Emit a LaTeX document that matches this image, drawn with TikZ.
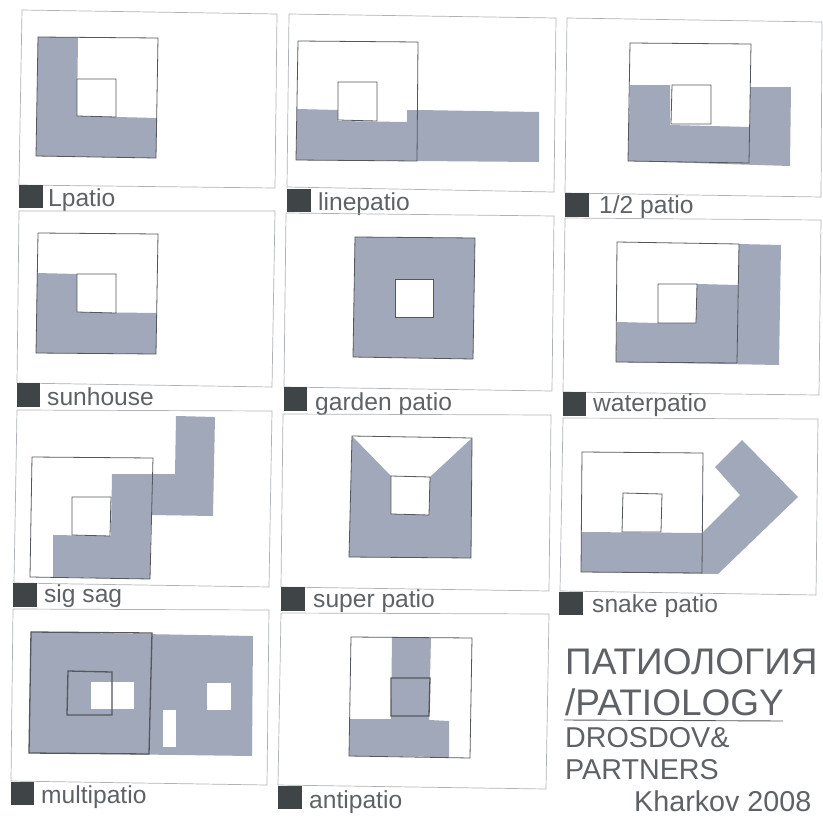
\documentclass[tikz,border=0pt]{standalone}
\usepackage{fontspec}
\setmainfont{Liberation Sans}
\definecolor{patchgrey}{HTML}{A0A8B9}
\definecolor{framegrey}{HTML}{AEB2B7}
\definecolor{wallgrey}{HTML}{54585C}
\definecolor{tagdark}{HTML}{3F4446}
\definecolor{inkgrey}{HTML}{5E6266}
\tikzset{
  % plans
  panel/.style={draw=framegrey,line width=0.7pt},
  patch/.style={fill=patchgrey},
  house/.style={draw=wallgrey,line width=0.8pt},
  housebold/.style={draw=wallgrey,line width=1.3pt},
  hole/.style={fill=white},
  court/.style={draw=wallgrey,line width=0.8pt,fill=white},
  tagbox/.style={fill=tagdark},
  % texts
  caption/.style={anchor=base west,inner sep=0pt,text=inkgrey,font=\fontsize{24.6}{25}\selectfont},
  titlebig/.style={anchor=base west,inner sep=0pt,text=inkgrey,font=\fontsize{37}{39}\selectfont},
  titlesmall/.style={anchor=base west,inner sep=0pt,text=inkgrey,font=\fontsize{28.7}{30}\selectfont},
}
\begin{document}
\begin{tikzpicture}[x=1pt,y=-1pt]
\useasboundingbox (0,0) rectangle (823,817);
  % row 1
  \draw[panel] (22,10) -- (277,14) -- (275,188) -- (19,185) -- cycle;
  \fill[patch] (38,37) -- (78,37) -- (77,116) -- (157,118) -- (156,158) -- (36,156) -- cycle;
  \draw[house] (38,37) -- (158,38) -- (156,158) -- (36,156) -- cycle;
  \draw[court] (77,79) -- (116,79) -- (116,117) -- (77,116) -- cycle;
  \fill[tagbox] (19,185) rectangle (43,208);
  \node[caption] (lpatio) at (48,206) {Lpatio};

  \draw[panel] (289,14) -- (556,18) -- (554,192) -- (287,187) -- cycle;
  \fill[patch] (297,109) -- (338,110) -- (338,121) -- (407,122) -- (407,110) -- (418,110) -- (539,112) -- (539,162) -- (296,160) -- cycle;
  \draw[house] (298,41) -- (418,42) -- (417,161) -- (296,160) -- cycle;
  \draw[court] (338,82) -- (377,82) -- (377,121) -- (338,120) -- cycle;
  \fill[tagbox] (287,189) rectangle (311,212);
  \node[caption] (linepatio) at (318,210) {linepatio};

  \draw[panel] (567,18) -- (822,22) -- (821,197) -- (565,193) -- cycle;
  \fill[patch] (630,85) -- (670,85) -- (670,125) -- (750,127) -- (750,87) -- (791,87) -- (790,166) -- (628,161) -- cycle;
  \draw[house] (630,43) -- (751,44) -- (749,163) -- (628,161) -- cycle;
  \draw[court] (672,85) -- (711,85) -- (711,124) -- (671,124) -- cycle;
  \fill[tagbox] (565,193) rectangle (589,217);
  \node[caption] (halfpatio) at (599,213) {1/2 patio};

  % row 2
  \draw[panel] (19,211) -- (275,211) -- (272,387) -- (17,383) -- cycle;
  \fill[patch] (37,273) -- (77,274) -- (77,312) -- (157,313) -- (156,354) -- (36,353) -- cycle;
  \draw[house] (38,233) -- (158,234) -- (156,354) -- (36,353) -- cycle;
  \draw[court] (77,274) -- (116,274) -- (116,313) -- (77,312) -- cycle;
  \fill[tagbox] (17,383) rectangle (40,407);
  \node[caption] (sunhouse) at (47,405) {sunhouse};

  \draw[panel] (286,213) -- (554,216) -- (552,391) -- (284,387) -- cycle;
  \filldraw[patch,house] (355,237) -- (475,238) -- (473,359) -- (353,357) -- cycle;
  \draw[court] (395,279) -- (433,279) -- (433,317) -- (395,317) -- cycle;
  \fill[tagbox] (284,387) rectangle (307,411);
  \node[caption] (gardenpatio) at (315,410) {garden patio};

  \draw[panel] (565,218) -- (821,220) -- (819,395) -- (563,392) -- cycle;
  \fill[patch] (617,322) -- (658,323) -- (696,323) -- (697,284) -- (738,285) -- (739,244) -- (781,245) -- (779,365) -- (616,362) -- cycle;
  \draw[house] (617,242) -- (739,244) -- (737,363) -- (616,362) -- cycle;
  \draw[court] (658,284) -- (697,284) -- (696,323) -- (658,323) -- cycle;
  \fill[tagbox] (563,392) rectangle (586,416);
  \node[caption] (waterpatio) at (593,411) {waterpatio};

  % row 3
  \draw[panel] (17,410) -- (272,411) -- (269,587) -- (14,583) -- cycle;
  \fill[patch] (53,535) -- (111,536) -- (112,474) -- (175,474) -- (176,416) -- (215,417) -- (213,516) -- (151,515) -- (150,579) -- (53,577) -- cycle;
  \draw[house] (32,457) -- (153,458) -- (150,579) -- (30,577) -- cycle;
  \draw[court] (72,497) -- (111,497) -- (110,536) -- (72,535) -- cycle;
  \fill[tagbox] (13,583) rectangle (37,607);
  \node[caption] (sigsag) at (44,602) {sig sag};

  \draw[panel] (283,414) -- (551,415) -- (549,591) -- (281,587) -- cycle;
  \fill[patch] (352,436) -- (391,476) -- (430,477) -- (472,438) -- (471,558) -- (349,557) -- cycle;
  \draw[house] (352,436) -- (472,438) -- (471,558) -- (349,557) -- cycle;
  \draw[court] (391,476) -- (430,477) -- (429,515) -- (391,514) -- cycle;
  \fill[tagbox] (281,587) rectangle (305,611);
  \node[caption] (superpatio) at (313,607) {super patio};

  \draw[panel] (563,418) -- (818,419) -- (816,595) -- (560,591) -- cycle;
  \fill[patch] (581,532) -- (702,533) -- (740,495) -- (715,467) -- (742,440) -- (798,497) -- (718,574) -- (581,572) -- cycle;
  \draw[house] (582,452) -- (703,453) -- (702,573) -- (581,572) -- cycle;
  \draw[court] (623,493) -- (662,494) -- (661,532) -- (622,532) -- cycle;
  \fill[tagbox] (559,592) rectangle (583,615);
  \node[caption] (snakepatio) at (592,612) {snake patio};

  % row 4
  \draw[panel] (13,609) -- (269,610) -- (267,785) -- (11,781) -- cycle;
  \fill[patch] (31,632) -- (253,636) -- (252,756) -- (29,753) -- cycle;
  \fill[hole] (91,682) rectangle (134,709);
  \fill[hole] (207,683) rectangle (231,710);
  \fill[hole] (163,710) rectangle (176,747);
  \draw[housebold] (31,632) -- (152,633) -- (149,754) -- (29,753) -- cycle;
  \draw[housebold] (68,671) -- (112,672) -- (112,715) -- (67,715) -- cycle;
  \fill[tagbox] (11,782) rectangle (34,805);
  \node[caption] (multipatio) at (41,803) {multipatio};

  \draw[panel] (281,613) -- (549,614) -- (546,789) -- (278,785) -- cycle;
  \fill[patch] (392,637) -- (431,638) -- (429,720) -- (449,721) -- (449,757) -- (349,756) -- (350,719) -- (391,719) -- cycle;
  \draw[house] (351,637) -- (472,638) -- (470,758) -- (349,756) -- cycle;
  \draw[housebold] (391,678) -- (430,678) -- (429,716) -- (391,716) -- cycle;
  \fill[tagbox] (278,786) rectangle (302,809);
  \node[caption] (antipatio) at (309,808) {antipatio};

  % title
  \node[titlebig] (titleru) at (565,674) {ПАТИОЛОГИЯ};
  \node[titlebig] (titleen) at (565,715) {/PATIOLOGY};
  \draw[draw=wallgrey,line width=0.9pt] (titleen.base west) ++(-1,5) -- ++(219,1);
  \node[titlesmall] (drosdov) at (565,747) {DROSDOV\&};
  \node[titlesmall] (partners) at (565,779) {PARTNERS};
  \node[titlesmall] (kharkov) at (634,811) {Kharkov 2008};
\end{tikzpicture}
\end{document}
